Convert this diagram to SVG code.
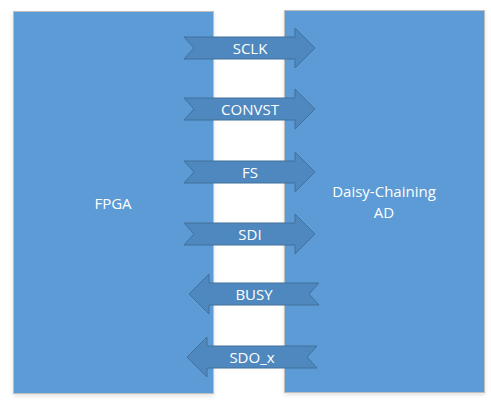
<svg xmlns="http://www.w3.org/2000/svg" width="491" height="402" viewBox="0 0 491 402">
<defs>
<style>
.blk{fill:#5B9BD5;stroke:#BFBFBF;stroke-width:1}
.arr{fill:#4E88BE;stroke:#41719C;stroke-width:1}
.t{font-family:"Open Sans","Liberation Sans",sans-serif;font-size:15px;fill:#FFFFFF;text-anchor:middle;dominant-baseline:central}
</style>
<filter id="sh" x="-10%" y="-10%" width="120%" height="120%">
<feGaussianBlur in="SourceAlpha" stdDeviation="2"/>
<feOffset dx="0" dy="2"/>
<feComponentTransfer><feFuncA type="linear" slope="0.12"/></feComponentTransfer>
<feMerge><feMergeNode/><feMergeNode in="SourceGraphic"/></feMerge>
</filter>
<path id="ra" d="M184,-11 L295,-11 L295,-20 L315,0 L295,20 L295,11 L184,11 L194,0 Z"/>
<path id="la" d="M319,-11 L209,-11 L209,-20 L189,0 L209,20 L209,11 L319,11 L309,0 Z"/>
</defs>
<rect width="491" height="402" fill="#FFFFFF"/>
<g id="fpga">
<rect class="blk" x="13.5" y="11.5" width="200" height="382" filter="url(#sh)"/>
<text class="t" x="113" y="203">FPGA</text>
</g>
<g id="ad">
<rect class="blk" x="284.5" y="10.5" width="200" height="382" filter="url(#sh)"/>
<text class="t" x="384" y="191">Daisy-Chaining</text>
<text class="t" x="384" y="212">AD</text>
</g>
<g id="connectors">
<g id="sclk"><use href="#ra" class="arr" transform="translate(0,48)"/><text class="t" x="250" y="48">SCLK</text></g>
<g id="convst"><use href="#ra" class="arr" transform="translate(0,109)"/><text class="t" x="250" y="109">CONVST</text></g>
<g id="fs"><use href="#ra" class="arr" transform="translate(0,172)"/><text class="t" x="250" y="172">FS</text></g>
<g id="sdi"><use href="#ra" class="arr" transform="translate(0,234)"/><text class="t" x="250" y="234">SDI</text></g>
<g id="busy"><use href="#la" class="arr" transform="translate(0,294)"/><text class="t" x="254" y="294">BUSY</text></g>
<g id="sdo"><use href="#la" class="arr" transform="translate(-2,357)"/><text class="t" x="252" y="357">SDO_x</text></g>
</g>
</svg>
